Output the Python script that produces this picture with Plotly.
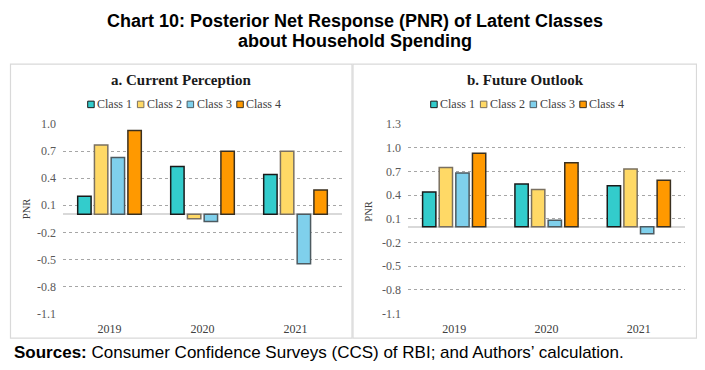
import plotly.graph_objects as go

# ---- data ----
years = ["2019", "2020", "2021"]
classes = ["Class 1", "Class 2", "Class 3", "Class 4"]

current_class1 = [0.20, 0.53, 0.44]
current_class2 = [0.77, -0.05, 0.70]
current_class3 = [0.63, -0.08, -0.55]
current_class4 = [0.93, 0.70, 0.27]

future_class1 = [0.44, 0.54, 0.52]
future_class2 = [0.75, 0.47, 0.73]
future_class3 = [0.68, 0.08, -0.09]
future_class4 = [0.93, 0.81, 0.59]

left_ticks = [-1.1, -0.8, -0.5, -0.2, 0.1, 0.4, 0.7, 1.0]
right_ticks = [-1.1, -0.8, -0.5, -0.2, 0.1, 0.4, 0.7, 1.0, 1.3]

panel_titles = ["a. Current Perception", "b. Future Outlook"]
title_lines = ["Chart 10: Posterior Net Response (PNR) of Latent Classes", "about Household Spending"]
source_text = "<b>Sources:</b> Consumer Confidence Surveys (CCS) of RBI; and Authors\u2019 calculation."

# ---- style / geometry ----
OFF = 8
W, H = 705 - OFF, 370 - OFF
fills = ["#33CCCC", "#FFD966", "#7FD0EC", "#FF9900"]
edges = ["#1a1a1a", "#7a7060", "#4d5a60", "#3a3020"]
serif = "Liberation Serif"
sans = "Liberation Sans"

# vertical calibration of the capture
VA, VB = 6.1, 0.967

def px_x(x):
    return (x - OFF) / W

def px_y(y):
    yp = (y - VA) / VB
    return (H - (yp - OFF)) / H

PLOT_TOP, PLOT_BOT = 124.0, 313.3
EPS = 0.01

fig = go.Figure()

current = [current_class1, current_class2, current_class3, current_class4]
future = [future_class1, future_class2, future_class3, future_class4]

for i, name in enumerate(classes):
    fig.add_trace(go.Bar(x=years, y=current[i], name=name, xaxis="x", yaxis="y",
                         marker=dict(color=fills[i], line=dict(color=edges[i], width=1.5)),
                         showlegend=False))
for i, name in enumerate(classes):
    fig.add_trace(go.Bar(x=years, y=future[i], name=name, xaxis="x2", yaxis="y2",
                         marker=dict(color=fills[i], line=dict(color=edges[i], width=1.5)),
                         showlegend=False))

def yax(ticks, anchor):
    lo, hi = ticks[0], ticks[-1]
    ppu = (PLOT_BOT - PLOT_TOP) / (hi - lo)
    return dict(
        range=[lo - EPS, hi + EPS],
        domain=[px_y(PLOT_BOT + EPS * ppu), px_y(PLOT_TOP - EPS * ppu)],
        tickvals=ticks,
        ticktext=[("%.1f" % t) for t in ticks],
        tickfont=dict(family=serif, size=12, color="#595959"),
        showgrid=True, gridcolor="#A6A6A6", griddash="dot", gridwidth=1,
        zeroline=True, zerolinecolor="#D9D9D9", zerolinewidth=2,
        showline=False, ticks="", anchor=anchor, fixedrange=True,
        ticklabelstandoff=6,
    )

def xax(x0, x1, anchor):
    return dict(
        domain=[px_x(x0), px_x(x1)], type="category", anchor=anchor,
        tickfont=dict(family=serif, size=12, color="#404040"),
        showline=False, showgrid=False, zeroline=False, ticks="",
        ticklabelstandoff=6, fixedrange=True,
    )

shapes = []
annotations = []

# panel borders
for (x0, x1) in [(10.5, 352), (353, 696.5)]:
    shapes.append(dict(type="rect", xref="paper", yref="paper",
                       x0=px_x(x0), x1=px_x(x1), y0=px_y(338), y1=px_y(64),
                       line=dict(color="#D9D9D9", width=1.2), fillcolor="rgba(0,0,0,0)", layer="below"))

# panel titles
for title, cx in zip(panel_titles, [181, 525]):
    annotations.append(dict(text="<b>%s</b>" % title, x=px_x(cx), y=px_y(80), xref="paper", yref="paper",
                            xanchor="center", yanchor="middle", showarrow=False,
                            font=dict(family=serif, size=15, color="#1a1a1a")))

# legends (one per panel)
pitch = 49.7
for cx in [183, 526]:
    start = cx - 95.3
    for i, name in enumerate(classes):
        sx = start + i * pitch
        shapes.append(dict(type="rect", xref="paper", yref="paper",
                           x0=px_x(sx), x1=px_x(sx + 6.5), y0=px_y(107.5), y1=px_y(101),
                           fillcolor=fills[i], line=dict(color=edges[i], width=1)))
        annotations.append(dict(text=name, x=px_x(sx + 7.5), y=px_y(104), xref="paper", yref="paper",
                                xanchor="left", yanchor="middle", showarrow=False,
                                font=dict(family=serif, size=12, color="#404040")))

# PNR axis labels
for (x, y) in [(26, 209), (368.5, 212)]:
    annotations.append(dict(text="PNR", x=px_x(x), y=px_y(y), xref="paper", yref="paper",
                            xanchor="center", yanchor="middle", showarrow=False, textangle=-90,
                            font=dict(family=serif, size=10.5, color="#404040")))

# main title
for line, y in zip(title_lines, [21, 41]):
    annotations.append(dict(text="<b>%s</b>" % line, x=px_x(355), y=px_y(y), xref="paper", yref="paper",
                            xanchor="center", yanchor="middle", showarrow=False,
                            font=dict(family=sans, size=18, color="#000000")))

# source
annotations.append(dict(text=source_text, x=px_x(12), y=px_y(352), xref="paper", yref="paper",
                        xanchor="left", yanchor="middle", showarrow=False,
                        font=dict(family=sans, size=17, color="#000000")))

fig.update_layout(
    width=W, height=H, margin=dict(l=0, r=0, t=0, b=0),
    paper_bgcolor="white", plot_bgcolor="white",
    barmode="group", bargap=0.28, bargroupgap=0.2,
    xaxis=xax(63, 342, "y"), yaxis=yax(left_ticks, "x"),
    xaxis2=xax(408, 685, "y2"), yaxis2=yax(right_ticks, "x2"),
    shapes=shapes, annotations=annotations,
)

fig.write_html("out.html")
